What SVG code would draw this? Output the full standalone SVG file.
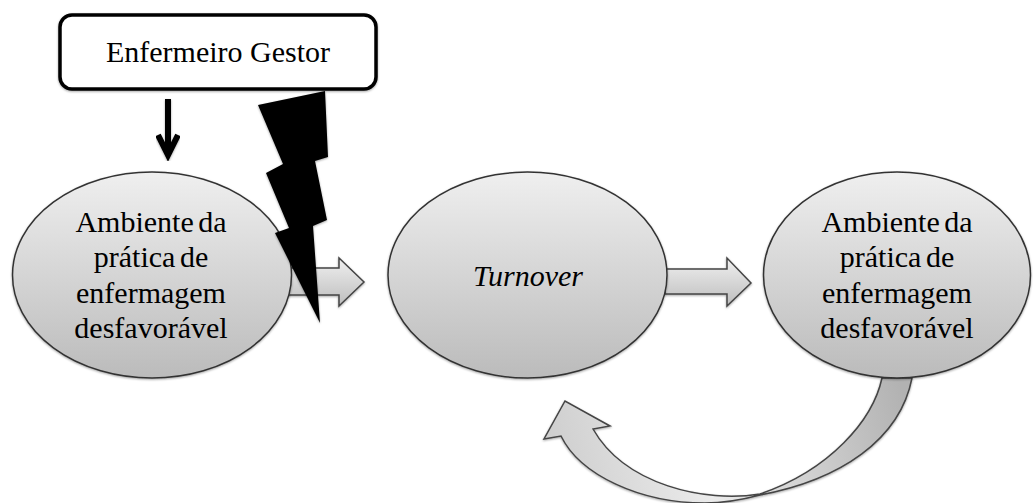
<svg xmlns="http://www.w3.org/2000/svg" width="1033" height="503" viewBox="0 0 1033 503">
<style>
.t{font-family:"Liberation Serif","Times New Roman",serif;font-size:30px;fill:#000;text-anchor:middle}
.w{word-spacing:-3px}
.n{fill:url(#g);stroke:#333;stroke-width:1.5}
.a{stroke:#444;stroke-width:1.5;stroke-linejoin:miter}
</style>
<defs>
<linearGradient id="g" x1="0" y1="0" x2="0" y2="1"><stop offset="0" stop-color="#efefef"/><stop offset="1" stop-color="#bbbbbb"/></linearGradient>
<linearGradient id="h" x1="0" y1="0" x2="0" y2="1"><stop offset="0" stop-color="#f0f0f0"/><stop offset="1" stop-color="#bdbdbd"/></linearGradient>
<linearGradient id="c" gradientUnits="userSpaceOnUse" x1="900" y1="380" x2="560" y2="470"><stop offset="0" stop-color="#b2b2b2"/><stop offset="0.6" stop-color="#ebebeb"/><stop offset="1" stop-color="#cfcfcf"/></linearGradient>
<filter id="s" x="-10%" y="-10%" width="120%" height="120%"><feDropShadow dx="0" dy="1" stdDeviation="1.2" flood-color="#000" flood-opacity="0.35"/></filter>
</defs>
<g id="connectors">
<path class="a" fill="url(#h)" filter="url(#s)" d="M285 268H339V258L364 282L339 306V295H285Z"/>
<path class="a" fill="url(#h)" filter="url(#s)" d="M665 269H727V258L751 283L727 306V294H665Z"/>
<path id="curved-arrow" class="a" fill="url(#c)" filter="url(#s)" d="M882 378C873 420 830 470 760 494C705 503 625 485 593 429L610 426L565 401L544 439L561 436C580 475 640 503 705 503C725 503 745 499 760 495C840 480 900 440 912 378Z"/>
<path d="M168 99V155M158 135L168 155L178 135" fill="none" stroke="#000" stroke-width="6" stroke-linejoin="miter" filter="url(#s)"/>
</g>
<g id="enfermeiro-gestor">
<rect x="60" y="15" width="316" height="74" rx="12" ry="12" fill="#fff" stroke="#000" stroke-width="3.5" filter="url(#s)"/>
<text class="t" x="218" y="62">Enfermeiro Gestor</text>
</g>
<g id="ambiente-1">
<ellipse class="n" filter="url(#s)" cx="152" cy="275" rx="139.500" ry="103"/>
<text class="t w" x="151" y="232">Ambiente da</text>
<text class="t w" x="151" y="267">prática de</text>
<text class="t" x="151" y="303">enfermagem</text>
<text class="t" x="151" y="338">desfavorável</text>
</g>
<g id="turnover">
<ellipse class="n" filter="url(#s)" cx="527.500" cy="275" rx="139.500" ry="103"/>
<text class="t" x="528" y="286" font-style="italic">Turnover</text>
</g>
<g id="ambiente-2">
<ellipse class="n" filter="url(#s)" cx="897" cy="275" rx="133.500" ry="103"/>
<text class="t w" x="897" y="232">Ambiente da</text>
<text class="t w" x="897" y="267">prática de</text>
<text class="t" x="897" y="303">enfermagem</text>
<text class="t" x="897" y="338">desfavorável</text>
</g>
<g id="bolt">
<path d="M258 105L325 91L328 157L315 161L327 220L313 226L320 323L275 233L289 228L266 173L283 164Z" fill="#000" filter="url(#s)"/>
</g>
</svg>
